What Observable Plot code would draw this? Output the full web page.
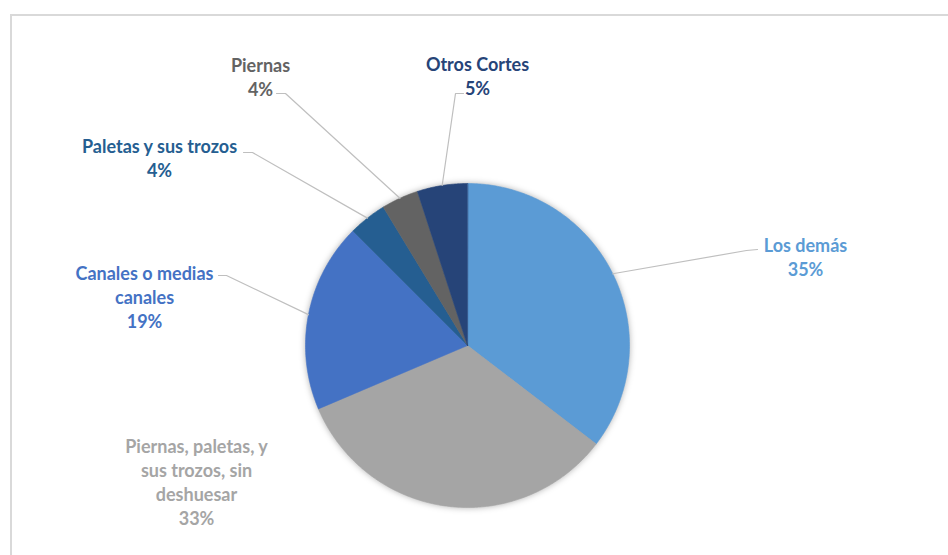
<!DOCTYPE html>
<html>
<head>
<meta charset="utf-8">
<script src="https://cdn.jsdelivr.net/npm/d3@7"></script>
<script src="https://cdn.jsdelivr.net/npm/@observablehq/plot@0.6"></script>
<style>
  html, body { margin: 0; padding: 0; background: #fff; overflow: hidden; }
  #frame { position: absolute; left: 10px; top: 14px; width: 1000px; height: 700px; border: 2px solid #d9d9d9; box-sizing: border-box; }
  #chart { position: absolute; left: 0; top: 0; }
</style>
</head>
<body>
<div id="frame"></div>
<div id="chart"></div>
<script>
// ---- data ----
const categories = ["Los demás", "Piernas, paletas, y sus trozos, sin deshuesar", "Canales o medias canales", "Paletas y sus trozos", "Piernas", "Otros Cortes"];
const shares = [35.4, 33.2, 18.9, 3.8, 3.7, 5.0];
const labelText = ["Los demás", "Piernas, paletas, y\nsus trozos, sin\ndeshuesar", "Canales o medias\ncanales", "Paletas y sus trozos", "Piernas", "Otros Cortes"];
const colors = ["#5B9BD5", "#A5A5A5", "#4472C4", "#255E91", "#636363", "#264478"];

// ---- layout (pixels) ----
const W = 948, H = 555;
const cx = 467, cy = 345, R = 162;
const labelAt = [[805, 256], [196, 481], [144, 296], [159, 157], [260, 76], [477, 75]];
const leaderEnd = [[757, 249], null, [218, 275], [243, 152], [276, 93], [463, 93]];
const leaderElbow = [[746, 250], null, [226, 275], [252, 152], [285, 93], [455, 93]];
const ux = (px) => (px - cx) / R;
const uy = (py) => (cy - py) / R;

// ---- pie geometry (unit circle, clockwise from 12 o'clock) ----
const total = d3.sum(shares);
const arcs = d3.pie().sort(null).value(d => d)(shares);
const slicePts = [];
arcs.forEach((a, i) => {
  slicePts.push({name: categories[i], x: 0, y: 0});
  const n = Math.max(4, Math.ceil((a.endAngle - a.startAngle) / 0.01));
  for (let k = 0; k <= n; k++) {
    const t = a.startAngle + (a.endAngle - a.startAngle) * k / n;
    slicePts.push({name: categories[i], x: Math.sin(t), y: Math.cos(t)});
  }
});

const leaderPts = [];
arcs.forEach((a, i) => {
  if (!leaderEnd[i]) return;
  const m = (a.startAngle + a.endAngle) / 2;
  leaderPts.push({name: categories[i], x: Math.sin(m), y: Math.cos(m)});
  leaderPts.push({name: categories[i], x: ux(leaderElbow[i][0]), y: uy(leaderElbow[i][1])});
  leaderPts.push({name: categories[i], x: ux(leaderEnd[i][0]), y: uy(leaderEnd[i][1])});
});

const labels = categories.map((c, i) => ({
  name: c,
  text: labelText[i] + "\n" + Math.round(shares[i] / total * 100) + "%",
  x: ux(labelAt[i][0]),
  y: uy(labelAt[i][1])
}));

const plot = Plot.plot({
  width: W,
  height: H,
  margin: 0,
  x: {domain: [-1, 1], range: [cx - R, cx + R], axis: null},
  y: {domain: [-1, 1], range: [cy + R, cy - R], axis: null},
  color: {domain: categories, range: colors},
  style: {background: "transparent", fontFamily: "Lato, 'Open Sans', sans-serif"},
  marks: [
    Plot.line(slicePts, {x: "x", y: "y", z: "name", fill: "name", stroke: "name", strokeWidth: 0.6, curve: "linear-closed"}),
    Plot.line(leaderPts, {x: "x", y: "y", z: "name", stroke: "#bfbfbf", strokeWidth: 1.2}),
    Plot.text(labels, {x: "x", y: "y", text: "text", fill: "name", fontSize: 18, fontWeight: "bold", lineHeight: 1.33, textAnchor: "middle", lineAnchor: "middle"})
  ]
});
const firstLine = plot.querySelector('g[aria-label="line"]');
if (firstLine) firstLine.style.filter = "drop-shadow(0 0 3px rgba(0,0,0,0.3))";
document.getElementById("chart").appendChild(plot);
</script>
</body>
</html>
